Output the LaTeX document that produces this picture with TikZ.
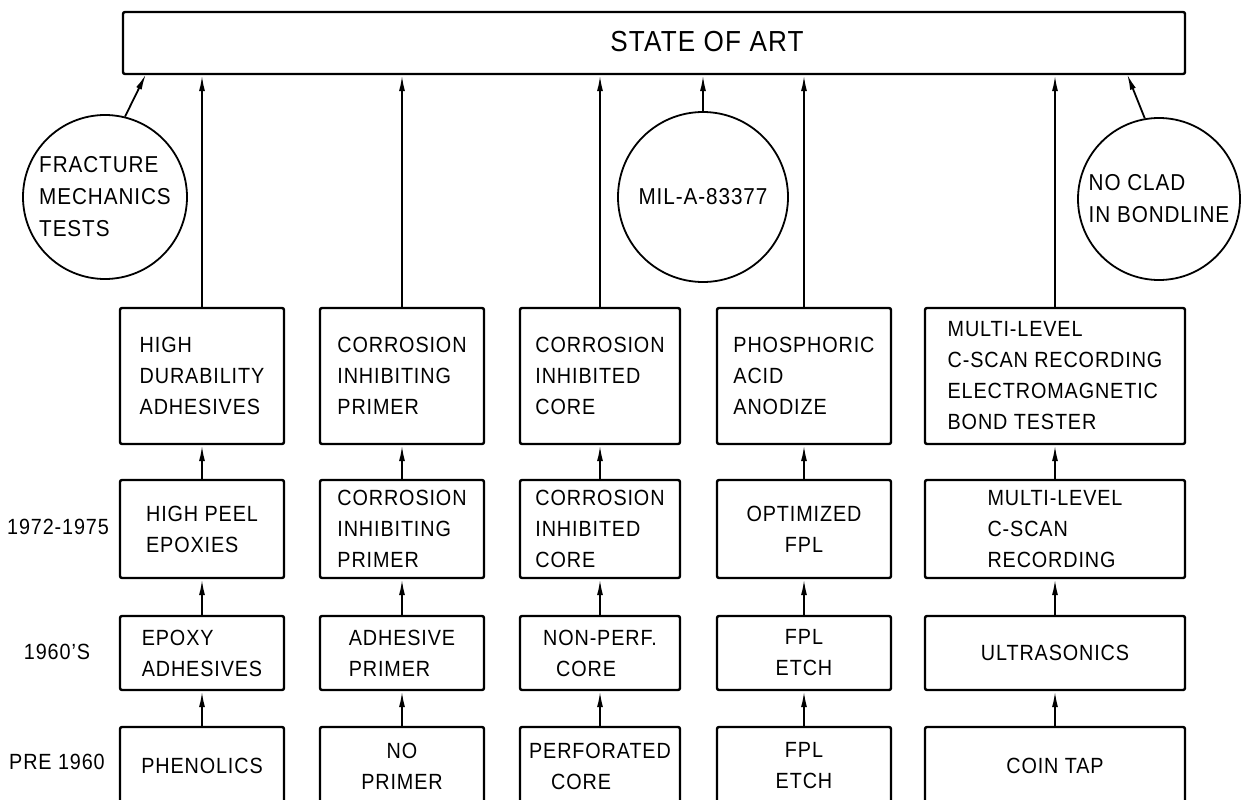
\documentclass[tikz,border=0pt]{standalone}
\usepackage{fontspec}
\setmainfont{Liberation Sans}[LetterSpace=4,FakeStretch=0.9]
\usepackage{tikz}
\usetikzlibrary{arrows.meta}

\begin{document}
\begin{tikzpicture}[x=1pt,y=-1pt,
  box/.style={draw,line width=2.4pt,rounded corners=2pt,align=left,inner sep=0pt,font=\fontsize{22}{31}\selectfont},
  ring/.style={draw,circle,line width=1.8pt,inner sep=0pt,align=left,font=\fontsize{23}{32}\selectfont},
  era/.style={font=\fontsize{22}{31}\selectfont},
  arr/.style={line width=1.8pt,-{Latex[length=16pt,width=6pt]}}]
\useasboundingbox (0,0) rectangle (1242,800);
% top bar
\node[draw,line width=2.4pt,rounded corners=2pt,minimum width=1062pt,minimum height=62pt,inner sep=0pt,font=\fontsize{29}{30}\selectfont] (bar) at (654,43) {\hspace*{106pt}\raisebox{4pt}{STATE OF ART}};
% circles
\node[ring,minimum size=164pt] (frac) at (105,197) {FRACTURE\\MECHANICS\\TESTS};
\node[ring,minimum size=170pt] (mil) at (703,197) {MIL-A-83377};
\node[ring,minimum size=162pt] (clad) at (1159,199) {NO CLAD\\IN BONDLINE};
\coordinate (fracend) at (146,74);
\coordinate (cladend) at (1127,74);
% era labels
\node[era] (yr3) at (58,527) {1972-1975};
\node[era] (yr2) at (57,652) {1960'S};
\node[era] (yr1) at (57,762) {PRE 1960};
% state of art row
\node[box,minimum width=164pt,minimum height=136pt] (adh4) at (202,376) {HIGH\\DURABILITY\\ADHESIVES};
\node[box,minimum width=164pt,minimum height=136pt] (prm4) at (402,376) {CORROSION\\INHIBITING\\PRIMER};
\node[box,minimum width=160pt,minimum height=136pt] (core4) at (600,376) {CORROSION\\INHIBITED\\CORE};
\node[box,minimum width=174pt,minimum height=136pt] (etch4) at (804,376) {PHOSPHORIC\\ACID\\ANODIZE};
\node[box,minimum width=260pt,minimum height=136pt] (nde4) at (1055,376) {MULTI-LEVEL\\C-SCAN RECORDING\\ELECTROMAGNETIC\\BOND TESTER};
% 1972-1975
\node[box,minimum width=164pt,minimum height=98pt] (adh3) at (202,529) {HIGH PEEL\\EPOXIES};
\node[box,minimum width=164pt,minimum height=98pt] (prm3) at (402,529) {CORROSION\\INHIBITING\\PRIMER};
\node[box,minimum width=160pt,minimum height=98pt] (core3) at (600,529) {CORROSION\\INHIBITED\\CORE};
\node[box,minimum width=174pt,minimum height=98pt,align=center] (etch3) at (804,529) {OPTIMIZED\\FPL};
\node[box,minimum width=260pt,minimum height=98pt] (nde3) at (1055,529) {MULTI-LEVEL\\C-SCAN\\RECORDING};
% 1960's
\node[box,minimum width=164pt,minimum height=74pt] (adh2) at (202,653) {EPOXY\\ADHESIVES};
\node[box,minimum width=164pt,minimum height=74pt] (prm2) at (402,653) {ADHESIVE\\PRIMER};
\node[box,minimum width=160pt,minimum height=74pt] (core2) at (600,653) {NON-PERF.\\\hspace*{13pt}CORE};
\node[box,minimum width=174pt,minimum height=74pt,align=center] (etch2) at (804,653) {FPL\\ETCH};
\node[box,minimum width=260pt,minimum height=74pt] (nde2) at (1055,653) {ULTRASONICS};
% pre 1960
\node[box,minimum width=164pt,minimum height=78pt] (adh1) at (202,766) {PHENOLICS};
\node[box,minimum width=164pt,minimum height=78pt,align=center] (prm1) at (402,766) {NO\\PRIMER};
\node[box,minimum width=160pt,minimum height=78pt] (core1) at (600,766) {PERFORATED\\\hspace*{22pt}CORE};
\node[box,minimum width=174pt,minimum height=78pt,align=center] (etch1) at (804,766) {FPL\\ETCH};
\node[box,minimum width=260pt,minimum height=78pt] (nde1) at (1055,766) {COIN TAP};
% arrows
\draw[arr] (adh1) -- (adh2);
\draw[arr] (adh2) -- (adh3);
\draw[arr] (adh3) -- (adh4);
\draw[arr] (adh4) -- (adh4 |- bar.south);
\draw[arr] (prm1) -- (prm2);
\draw[arr] (prm2) -- (prm3);
\draw[arr] (prm3) -- (prm4);
\draw[arr] (prm4) -- (prm4 |- bar.south);
\draw[arr] (core1) -- (core2);
\draw[arr] (core2) -- (core3);
\draw[arr] (core3) -- (core4);
\draw[arr] (core4) -- (core4 |- bar.south);
\draw[arr] (etch1) -- (etch2);
\draw[arr] (etch2) -- (etch3);
\draw[arr] (etch3) -- (etch4);
\draw[arr] (etch4) -- (etch4 |- bar.south);
\draw[arr] (nde1) -- (nde2);
\draw[arr] (nde2) -- (nde3);
\draw[arr] (nde3) -- (nde4);
\draw[arr] (nde4) -- (nde4 |- bar.south);
\draw[arr] (frac.76) -- (fracend);
\draw[arr] (mil) -- (mil |- bar.south);
\draw[arr] (clad.100) -- (cladend);
\end{tikzpicture}
\end{document}
